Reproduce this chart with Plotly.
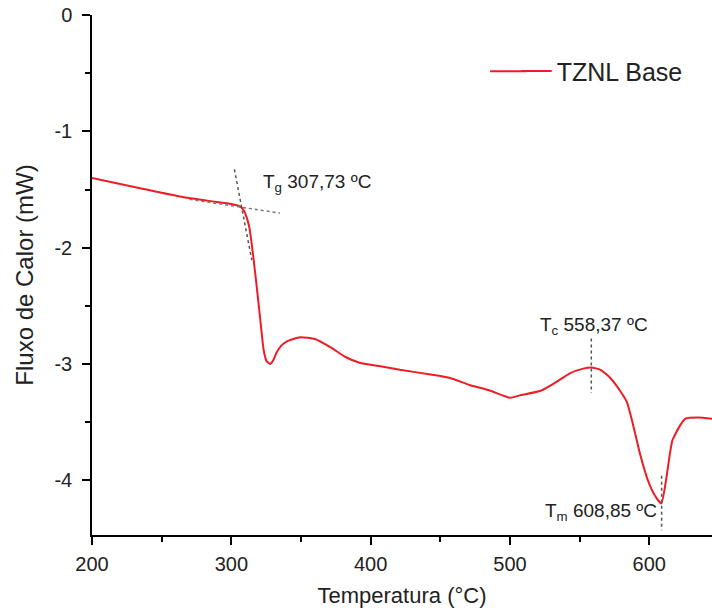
import plotly.graph_objects as go

# DSC curve, TZNL Base
temp = [200, 234.5, 263, 285, 300, 306, 309, 311, 313, 316, 319, 321.5, 323.2, 325.3,
        327.8, 330, 332.6, 336, 340, 349.4, 360, 371, 382, 392, 407, 421, 443, 457, 471, 486,
        500, 507, 522, 532.5, 543, 552.6, 558.4, 565, 572, 579, 584, 588.5, 593.5, 599, 604,
        608.6, 612, 616.5, 622, 626, 635, 645]
flux = [-1.40, -1.49, -1.56, -1.60, -1.625, -1.645, -1.68, -1.74, -1.83, -2.10, -2.42, -2.70, -2.88,
        -2.975, -3.00, -2.97, -2.90, -2.84, -2.805, -2.77, -2.785, -2.855, -2.94, -2.99, -3.02, -3.05,
        -3.09, -3.12, -3.18, -3.23, -3.29, -3.27, -3.23, -3.16, -3.08, -3.04, -3.03, -3.05, -3.12,
        -3.23, -3.33, -3.53, -3.78, -4.00, -4.13, -4.20, -4.00, -3.66, -3.53, -3.47, -3.46, -3.47]

# Tangent construction for Tg
tan1_x = [270, 335]
tan1_y = [-1.585, -1.703]
tan2_x = [302.2, 314.7]
tan2_y = [-1.327, -2.108]
# Markers for Tc and Tm
tc_x = [558.37, 558.37]
tc_y = [-2.78, -3.25]
tm_x = [608.85, 608.85]
tm_y = [-3.96, -4.43]

fig = go.Figure()
fig.add_trace(go.Scatter(x=temp, y=flux, mode="lines", name="TZNL Base",
                         line=dict(color="#ee1c25", width=2, shape="spline", smoothing=0.5)))
for xs, ys, col in [(tan1_x, tan1_y, "#777777"), (tan2_x, tan2_y, "#555555"),
                    (tc_x, tc_y, "#555555"), (tm_x, tm_y, "#555555")]:
    fig.add_trace(go.Scatter(x=xs, y=ys, mode="lines", showlegend=False, hoverinfo="skip",
                             line=dict(color=col, width=1.5, dash="dot")))

fnt = "Liberation Sans, Arial, sans-serif"
ann = dict(showarrow=False, font=dict(family=fnt, size=19, color="#222"), xanchor="left")
fig.add_annotation(x=321, y=-1.445, text="T<sub>g</sub> 307,73 ºC", **ann)
fig.add_annotation(x=520, y=-2.67, text="T<sub>c</sub> 558,37 ºC", **ann)
fig.add_annotation(x=524, y=-4.27, text="T<sub>m</sub> 608,85 ºC", **ann)

# extend the legend's line sample to the reference's longer length
fig.add_shape(type="line", xref="paper", yref="paper", x0=0.642, x1=0.70, y0=0.892, y1=0.892,
              line=dict(color="#ee1c25", width=2))

axis_common = dict(showline=True, linecolor="black", linewidth=1.5, ticks="outside",
                   ticklen=8, tickwidth=1.5, tickcolor="black", showgrid=False, zeroline=False,
                   mirror=False, tickfont=dict(family=fnt, size=20, color="#222"))
fig.update_xaxes(range=[200, 645], tickvals=[200, 300, 400, 500, 600],
                 minor=dict(tickvals=[250, 350, 450, 550], ticks="outside", ticklen=5,
                            tickwidth=1.5, tickcolor="black"),
                 ticklabelstandoff=2,
                 title=dict(text="Temperatura (°C)", font=dict(family=fnt, size=22, color="#222"),
                            standoff=14),
                 **axis_common)
fig.update_yaxes(range=[-4.47, 0], tickvals=[0, -1, -2, -3, -4], ticktext=["0", "-1", "-2", "-3", "-4"],
                 minor=dict(tickvals=[-0.5, -1.5, -2.5, -3.5], ticks="outside", ticklen=5,
                            tickwidth=1.5, tickcolor="black"),
                 ticklabelstandoff=6,
                 title=dict(text="Fluxo de Calor (mW)", font=dict(family=fnt, size=24, color="#222"),
                            standoff=14),
                 **axis_common)
fig.update_layout(width=712, height=613, margin=dict(l=92, r=0, t=15, b=78),
                  paper_bgcolor="white", plot_bgcolor="white",
                  legend=dict(x=0.685, y=0.892, xanchor="left", yanchor="middle",
                              font=dict(family=fnt, size=25, color="#222"),
                              bgcolor="rgba(0,0,0,0)"))
fig.write_html("out.html")
